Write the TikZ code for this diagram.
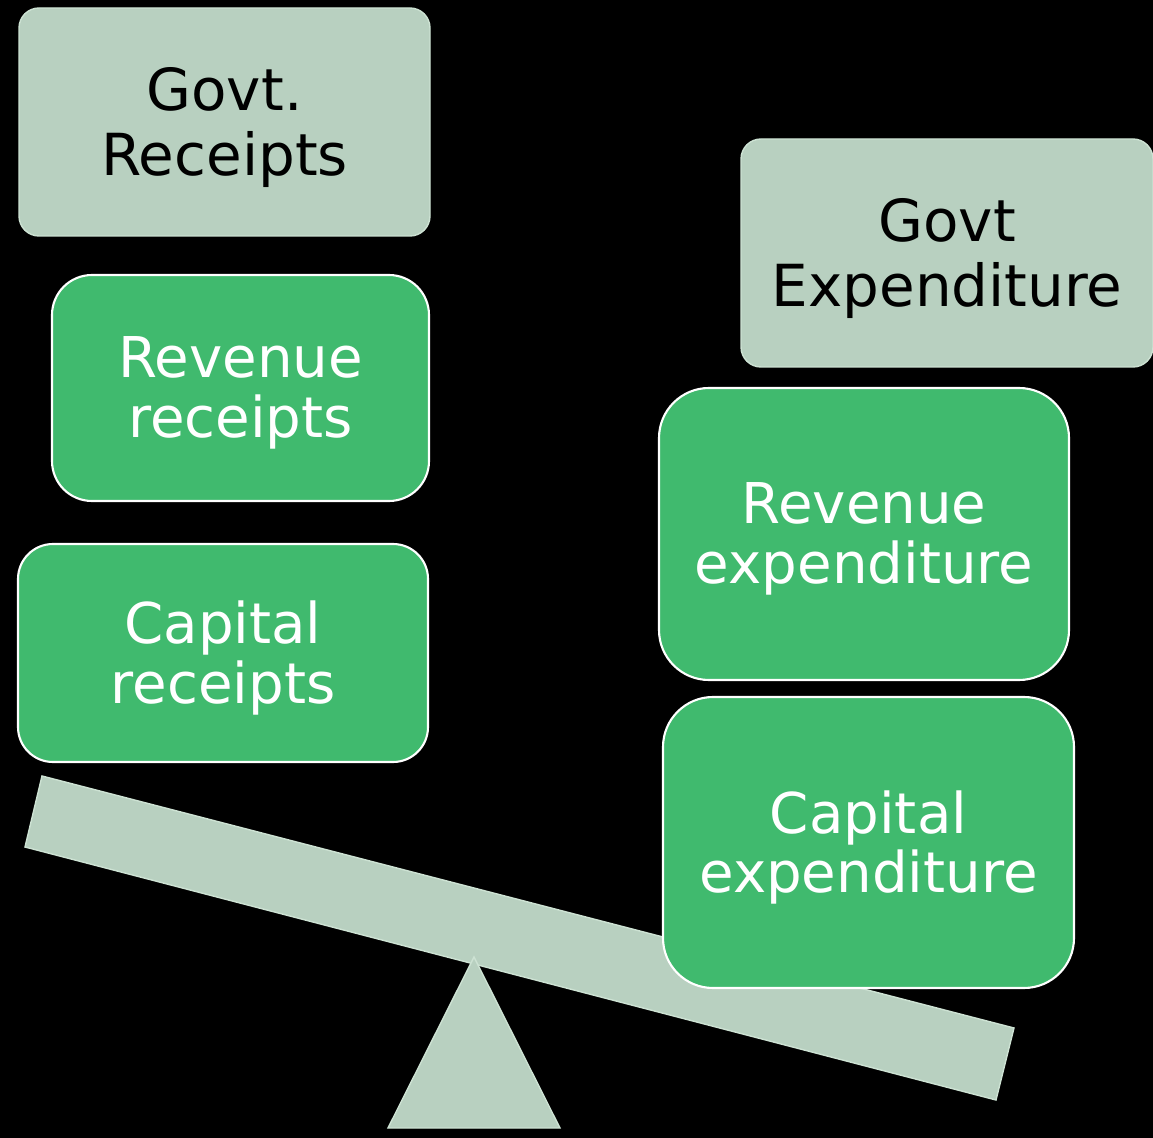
\documentclass[tikz,border=0pt]{standalone}
\usepackage{fontspec}
\setmainfont{DejaVu Sans}
\definecolor{sage}{HTML}{B8D0C0}
\definecolor{sageline}{HTML}{CDE2D3}
\definecolor{leaf}{HTML}{40BA6E}
\tikzset{%
  headbox/.style  = {rounded corners=0.4cm, draw=sageline, line width=0.8pt, fill=sage},
  headtext/.style = {pos=.5, yshift=-0.11cm, text=black, align=center,
    font=\fontsize{33}{37}\selectfont},
  itembox/.style  = {rounded corners=0.8cm, draw=white, line width=1.2pt, fill=leaf},
  itemtext/.style = {pos=.5, yshift=-0.1cm, text=white, align=center,
    font=\fontsize{32}{34}\selectfont},
  plank/.style = {draw=sageline, line width=0.8pt, fill=sage}
}

\begin{document}
\begin{tikzpicture}[x=0.02cm, y=-0.02cm]
    \fill[black] (0, 0) rectangle (1153, 1138);
    \useasboundingbox (0, 0) rectangle (1153, 1138);

    %beam and fulcrum
    \filldraw[plank] (42, 776) -- (1014, 1028) -- (996, 1100) -- (25, 847) -- cycle;
    \filldraw[plank] (474, 957) -- (560, 1128) -- (388, 1128) -- cycle;

    %receipts side
    \filldraw[headbox] (19, 8) rectangle (430, 236) node[headtext] (receipts) {Govt.\\Receipts};
    \filldraw[itembox] (52, 275) rectangle (429, 501) node[itemtext] (revrec) {Revenue\\receipts};
    \filldraw[itembox, rounded corners=0.7cm] (18, 544) rectangle (428, 762) node[itemtext] (caprec) {Capital\\receipts};

    %expenditure side
    \filldraw[headbox] (741, 139) rectangle (1153, 367) node[headtext] (expend) {Govt\\Expenditure};
    \filldraw[itembox, rounded corners=1cm] (659, 388) rectangle (1069, 680) node[itemtext] (revexp) {Revenue\\expenditure};
    \filldraw[itembox, rounded corners=1cm] (663, 697) rectangle (1074, 988) node[itemtext] (capexp) {Capital\\expenditure};
\end{tikzpicture}
\end{document}
